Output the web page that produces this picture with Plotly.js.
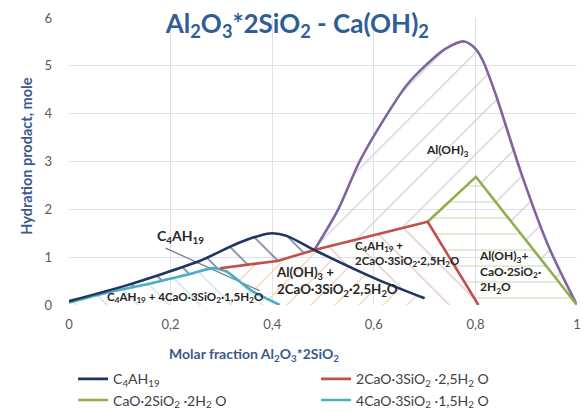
<!DOCTYPE html>
<html>
<head>
<meta charset="utf-8">
<script src="https://cdn.plot.ly/plotly-3.0.1.min.js"></script>
<style>html,body{margin:0;padding:0;background:#fff;}#chart{width:583px;height:412px;}</style>
</head>
<body>
<div id="chart"></div>
<script>
// ---- data ----
var navyX = [0, 0.11, 0.257, 0.33, 0.375, 0.40, 0.43, 0.483, 0.61, 0.70];
var navyY = [0.08, 0.40, 0.92, 1.28, 1.45, 1.50, 1.44, 1.15, 0.52, 0.14];

var cyanX = [0, 0.08, 0.165, 0.231, 0.285, 0.31, 0.336, 0.362, 0.388, 0.415];
var cyanY = [0.05, 0.27, 0.46, 0.63, 0.77, 0.70, 0.49, 0.28, 0.14, 0.0];

var redX = [0.297, 0.41, 0.483, 0.706, 0.806];
var redY = [0.77, 0.92, 1.15, 1.74, 0.0];

var greenX = [0.706, 0.801, 1.0];
var greenY = [1.74, 2.68, 0.0];

var purpleX = [0.483, 0.53, 0.572, 0.627, 0.665, 0.703, 0.74, 0.778, 0.80, 0.815, 0.84, 0.892, 0.945, 1.0];
var purpleY = [1.15, 2.00, 3.00, 4.00, 4.60, 5.02, 5.35, 5.51, 5.36, 5.10, 4.40, 2.70, 1.20, 0.0];

var pointerX = [0.19, 0.375];
var pointerY = [1.19, 0.30];

var xTicks = [0, 0.2, 0.4, 0.6, 0.8, 1];
var xTickText = ['0', '0,2', '0,4', '0,6', '0,8', '1'];
var yTicks = [0, 1, 2, 3, 4, 5, 6];

var legendNames = [
  'C<sub>4</sub>AH<sub>19</sub>',
  '2CaO·3SiO<sub>2</sub> ·2,5H<sub>2</sub> O',
  'CaO·2SiO<sub>2</sub> ·2H<sub>2</sub> O',
  '4CaO·3SiO<sub>2</sub> ·1,5H<sub>2</sub> O'
];

// ---- helpers to build hatched region outlines from the curves ----
function pts(xs, ys, i0, i1) {
  var o = [];
  if (i0 <= i1) { for (var i = i0; i <= i1; i++) o.push([xs[i], ys[i]]); }
  else { for (var j = i0; j >= i1; j--) o.push([xs[j], ys[j]]); }
  return o;
}
function poly(list) {
  var x = [], y = [];
  list.forEach(function(p){ x.push(p[0]); y.push(p[1]); });
  x.push(list[0][0]); y.push(list[0][1]);
  return {x: x, y: y};
}
var iNavyJ = navyX.indexOf(0.483), iNavyEnd = navyX.length - 1;
var iCyanPk = cyanX.indexOf(0.285), iCyanEnd = cyanX.length - 1;

var regC4 = poly([].concat(pts(navyX, navyY, 0, iNavyJ), pts(redX, redY, 2, 0), pts(cyanX, cyanY, iCyanPk, 0)));
var regCyan = poly([].concat(pts(cyanX, cyanY, 0, iCyanEnd), [[0, 0]]));
var regOrange = poly([].concat(pts(cyanX, cyanY, iCyanPk, iCyanEnd), [[navyX[iNavyEnd], 0]], pts(navyX, navyY, iNavyEnd, iNavyJ), pts(redX, redY, 1, 0)));
var regPink = poly([].concat(pts(navyX, navyY, iNavyJ, iNavyEnd), [[navyX[iNavyEnd], 0]], pts(redX, redY, 4, 2)));
var regGray = poly([].concat(pts(purpleX, purpleY, 0, purpleX.length - 1), pts(greenX, greenY, 2, 0), pts(redX, redY, 3, 2)));
var regGreen = poly([].concat(pts(greenX, greenY, 0, 2), [[redX[4], redY[4]]]));

function hatch(reg, shape, color, size, sol) {
  return {x: reg.x, y: reg.y, type: 'scatter', mode: 'lines', fill: 'toself',
    fillcolor: 'rgba(0,0,0,0)', line: {width: 0, color: 'rgba(0,0,0,0)'},
    fillpattern: {shape: shape, fgcolor: color, bgcolor: 'rgba(0,0,0,0)', size: size, solidity: sol, fillmode: 'replace'},
    showlegend: false, hoverinfo: 'skip'};
}

var traces = [
  hatch(regCyan, '\\', '#b4dde8', 22, 0.05),
  hatch(regOrange, '/', '#f1c8a0', 17, 0.06),
  hatch(regC4, '\\', '#56627c', 24, 0.055),
  hatch(regPink, '\\', '#d6bcbc', 22, 0.05),
  hatch(regGray, '/', '#c6c6d0', 24, 0.045),
  hatch(regGreen, '-', '#c8d4a8', 16, 0.06),
  {x: pointerX, y: pointerY, type: 'scatter', mode: 'lines', line: {color: '#6c7a8c', width: 1.2}, showlegend: false, hoverinfo: 'skip'},
  {x: purpleX, y: purpleY, type: 'scatter', mode: 'lines', line: {color: '#8064a2', width: 2.6, shape: 'spline', smoothing: 0.8}, showlegend: false},
  {x: cyanX, y: cyanY, type: 'scatter', mode: 'lines', name: legendNames[3], line: {color: '#4bacc6', width: 2.6, shape: 'spline', smoothing: 0.6}},
  {x: greenX, y: greenY, type: 'scatter', mode: 'lines', name: legendNames[2], line: {color: '#8fae4e', width: 2.6}},
  {x: redX, y: redY, type: 'scatter', mode: 'lines', name: legendNames[1], line: {color: '#c0504d', width: 2.6}},
  {x: navyX, y: navyY, type: 'scatter', mode: 'lines', name: legendNames[0], line: {color: '#1f3461', width: 2.6, shape: 'spline', smoothing: 0.6}}
];
// legend order: C4AH19, 2CaO..., CaO..., 4CaO...
traces[11].legendrank = 1; traces[10].legendrank = 2; traces[9].legendrank = 3; traces[8].legendrank = 4;

var F = 'Lato, "Open Sans", sans-serif';
var txtC = '#262626';
var axC = '#3a5a8c';
var layout = {
  width: 583, height: 412,
  margin: {l: 69, r: 6, t: 18, b: 107, autoexpand: false},
  paper_bgcolor: '#ffffff', plot_bgcolor: '#ffffff',
  separators: ',.',
  font: {family: F, color: '#595959'},
  title: {text: 'Al<sub>2</sub>O<sub>3</sub>*2SiO<sub>2</sub> - Ca(OH)<sub>2</sub>',
    font: {family: F, size: 26, color: '#2f5e95', weight: 'bold'},
    x: 0.51, xanchor: 'center', y: 0.943, yanchor: 'middle'},
  xaxis: {range: [0, 1], tickvals: xTicks, ticktext: xTickText, showgrid: true, gridcolor: '#dde3ec', gridwidth: 1,
    zeroline: false, showline: false, ticks: '', ticklabelstandoff: 10, tickfont: {size: 13, color: '#595959'}, fixedrange: true},
  yaxis: {range: [0, 6], tickvals: yTicks, showgrid: true, gridcolor: '#dde3ec', gridwidth: 1,
    zeroline: false, showline: false, ticks: '', ticklabelstandoff: 16, tickfont: {size: 13, color: '#595959'}, fixedrange: true},
  legend: {orientation: 'h', x: 0.008, xanchor: 'left', y: -0.203, yanchor: 'top',
    entrywidth: 198, entrywidthmode: 'pixels', traceorder: 'normal',
    font: {family: F, size: 14, color: '#404040'}, bgcolor: 'rgba(0,0,0,0)'},
  showlegend: true,
  annotations: [
    {xref: 'paper', yref: 'paper', x: -0.106, y: 0.519, text: 'Hydration prodact, mole', textangle: -90, showarrow: false,
      font: {family: F, size: 14.5, color: axC, weight: 'bold'}},
    {xref: 'paper', yref: 'paper', x: 0.364, y: -0.212, text: 'Molar fraction Al<sub>2</sub>O<sub>3</sub>*2SiO<sub>2</sub>', showarrow: false,
      font: {family: F, size: 14, color: axC, weight: 'bold'}},
    {x: 0.22, y: 1.44, text: 'C<sub>4</sub>AH<sub>19</sub>', showarrow: false, font: {family: F, size: 14, color: txtC, weight: 'bold'}},
    {x: 0.228, y: 0.15, text: 'C<sub>4</sub>AH<sub>19</sub> + 4CaO·3SiO<sub>2</sub>·1,5H<sub>2</sub>O', showarrow: false, font: {family: F, size: 11.6, color: txtC, weight: 'bold'}},
    {x: 0.403, y: 0.5, xanchor: 'left', align: 'left', text: 'Al(OH)<sub>3</sub> +<br>2CaO·3SiO<sub>2</sub>·2,5H<sub>2</sub>O', showarrow: false, font: {family: F, size: 13.3, color: txtC, weight: 'bold'}},
    {x: 0.56, y: 1.06, xanchor: 'left', align: 'left', text: 'C<sub>4</sub>AH<sub>19</sub> +<br>2CaO·3SiO<sub>2</sub>·2,5H<sub>2</sub>O', showarrow: false, font: {family: F, size: 11.5, color: txtC, weight: 'bold'}},
    {x: 0.803, y: 0.69, xanchor: 'left', align: 'left', text: 'Al(OH)<sub>3</sub>+<br>CaO·2SiO<sub>2</sub>·<br>2H<sub>2</sub>O', showarrow: false, font: {family: F, size: 12, color: txtC, weight: 'bold'}},
    {x: 0.745, y: 3.24, text: 'Al(OH)<sub>3</sub>', showarrow: false, font: {family: F, size: 12, color: txtC, weight: 'bold'}}
  ]
};

Plotly.newPlot('chart', traces, layout, {displayModeBar: false, staticPlot: true});
</script>
</body>
</html>
